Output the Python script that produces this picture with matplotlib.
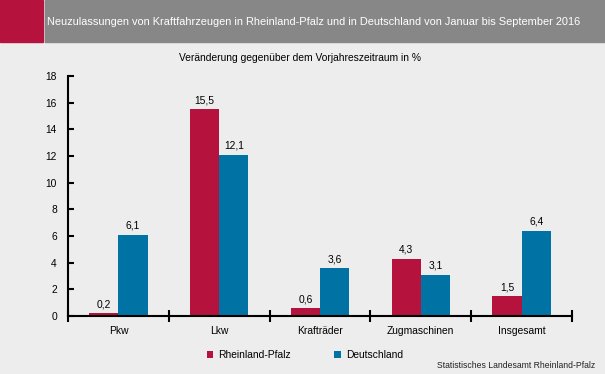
import matplotlib.pyplot as plt
import numpy as np
from matplotlib.patches import Rectangle

plt.rcParams['font.family'] = ['Liberation Sans', 'DejaVu Sans']

categories = ["Pkw", "Lkw", "Krafträder", "Zugmaschinen", "Insgesamt"]
rlp = [0.2, 15.5, 0.6, 4.3, 1.5]
de = [6.1, 12.1, 3.6, 3.1, 6.4]
series_names = ["Rheinland-Pfalz", "Deutschland"]

RED = '#b5123e'
BLUE = '#0072a3'
BG = '#ecedec'

W, H = 605, 374
fig = plt.figure(figsize=(W / 100, H / 100), dpi=100)
fig.patch.set_facecolor(BG)

# header
fig.patches.append(Rectangle((0, 1 - 42 / H), 43 / W, 42 / H, transform=fig.transFigure,
                             color=RED, zorder=0))
fig.patches.append(Rectangle((45 / W, 1 - 42 / H), 1 - 45 / W, 42 / H, transform=fig.transFigure,
                             color='#878787', zorder=0))
fig.text(47 / W, 1 - 22 / H, "Neuzulassungen von Kraftfahrzeugen in Rheinland-Pfalz und in Deutschland von Januar bis September 2016",
         color='white', fontsize=7.9, va='center', ha='left')

ax = fig.add_axes([68 / W, 1 - 316 / H, (572 - 68) / W, (316 - 76) / H])
ax.set_facecolor(BG)

x = np.arange(len(categories))
bw = 0.29
b1 = ax.bar(x - bw / 2, rlp, bw, color=RED, label=series_names[0])
b2 = ax.bar(x + bw / 2, de, bw, color=BLUE, label=series_names[1])
for bars, vals in ((b1, rlp), (b2, de)):
    for b, v in zip(bars, vals):
        ax.text(b.get_x() + b.get_width() / 2, v + 0.3, f"{v:.1f}".replace('.', ','),
                ha='center', va='bottom', fontsize=7.4)

ax.set_xlim(-0.5, len(categories) - 0.5)
ax.set_ylim(0, 18)
ax.set_yticks(range(0, 19, 2))
ax.set_xticks(np.arange(-0.5, len(categories), 1))
ax.set_xticklabels([])
ax.set_xticks(x, minor=True)
ax.set_xticklabels(categories, minor=True)
ax.tick_params(axis='x', which='minor', length=0, pad=7, labelsize=7.4)
ax.tick_params(axis='x', which='major', direction='inout', length=8, width=1.5)
ax.tick_params(axis='y', direction='in', length=4, width=1.5, labelsize=7.4, pad=8)
for s in ('top', 'right'):
    ax.spines[s].set_visible(False)
ax.spines['left'].set_linewidth(1.5)
ax.spines['bottom'].set_linewidth(1.5)

fig.text(300 / W, 1 - 58 / H, "Veränderung gegenüber dem Vorjahreszeitraum in %",
         ha='center', va='center', fontsize=7.4)

fig.legend(loc='center', bbox_to_anchor=(305 / W, 1 - 355 / H), ncol=2, frameon=False,
           fontsize=7.4, handlelength=0.6, handleheight=0.6, columnspacing=4.2, handletextpad=0.5)

fig.text(595 / W, 1 - 366 / H, "Statistisches Landesamt Rheinland-Pfalz",
         ha='right', va='center', fontsize=6.2, color='#222222')

fig.savefig('out.png', dpi=100, facecolor=BG)
